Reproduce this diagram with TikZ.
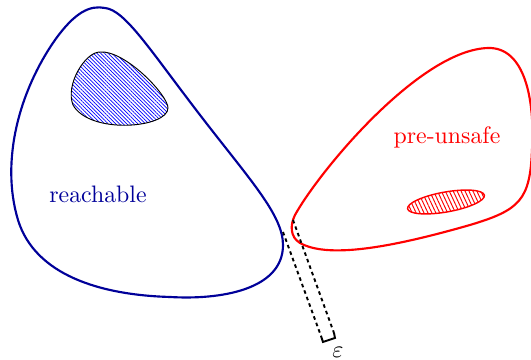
\documentclass[tikz,border=0pt]{standalone}
\usetikzlibrary{patterns.meta}

\begin{document}
\begin{tikzpicture}[
  x=0.42pt, y=-0.42pt,
  region/.style={line width=0.9pt},
  hatchblob/.style={draw=black, line width=0.4pt,
                    pattern={Lines[angle=-45, distance=1.1pt, line width=0.3pt]},
                    pattern color=blue},
  hatchred/.style={draw=red, line width=0.6pt,
                   pattern={Lines[angle=-65, distance=1.5pt, line width=0.4pt]},
                   pattern color=red},
  gap/.style={line width=0.8pt, dash pattern=on 1.5pt off 1.4pt},
  gapend/.style={line width=0.8pt},
]
  \useasboundingbox (0,0) rectangle (531,360);

  % reachable set
  \draw[region, blue!60!black] (105,8)
    .. controls (125,10) and (150,50) .. (200,115)
    .. controls (250,180) and (283,215) .. (283,245)
    .. controls (283,290) and (220,300) .. (170,297)
    .. controls (100,295) and (35,275) .. (18,220)
    .. controls (0,160) and (20,90) .. (55,40)
    .. controls (75,12) and (90,5) .. cycle;
  \draw[hatchblob] (100,52)
    .. controls (125,50) and (168,95) .. (168,108)
    .. controls (168,128) and (90,135) .. (73,105)
    .. controls (65,85) and (85,52) .. cycle;
  \node[text=blue!60!black] (reach) at (98,194) {reachable};

  % pre-unsafe set
  \draw[region, red] (295,215)
    .. controls (320,170) and (420,50) .. (488,48)
    .. controls (525,47) and (535,100) .. (532,150)
    .. controls (530,200) and (520,210) .. (470,225)
    .. controls (400,245) and (330,260) .. (300,243)
    .. controls (290,237) and (290,225) .. cycle;
  \draw[hatchred, rotate around={10:(446,202)}] (446,202)
    ellipse [x radius=39, y radius=10];
  \node[text=red] (unsafe) at (447,137) {pre-unsafe};

  % epsilon strip
  \coordinate (a1) at (283,232);
  \coordinate (a2) at (321,336);
  \coordinate (b1) at (293,220);
  \coordinate (b2) at (334,333);
  \coordinate (c) at (323,342);
  \coordinate (d) at (335,338);
  \draw[gap] (a1) -- (a2);
  \draw[gap] (b1) -- (b2);
  \draw[gapend] (a2) -- (c) -- (d) -- (b2);
  \node (eps) at (338,352) {$\varepsilon$};
\end{tikzpicture}
\end{document}
